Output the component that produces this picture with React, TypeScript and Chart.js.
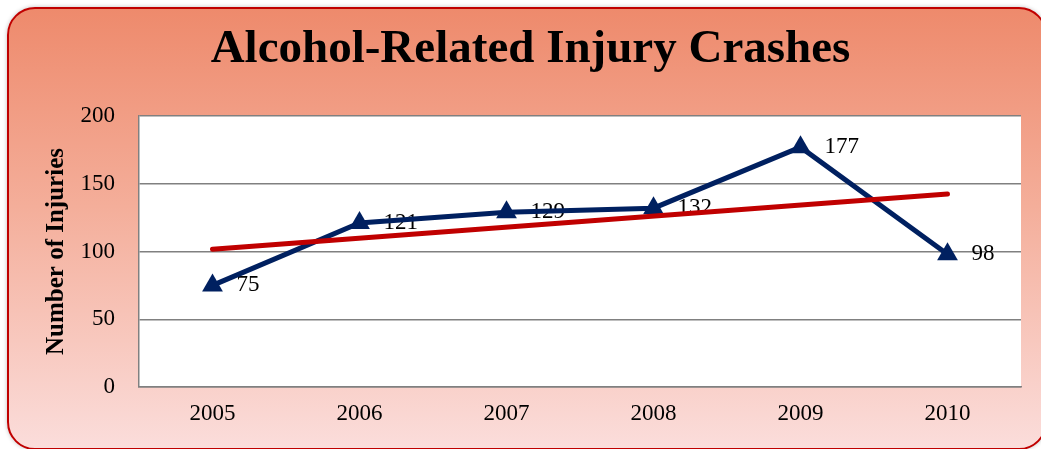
import React, { useEffect, useRef } from "react";
import { Chart, registerables } from "chart.js";

Chart.register(...registerables);

const years = ["2005", "2006", "2007", "2008", "2009", "2010"];
const injuries = [75, 121, 129, 132, 177, 98];
// Linear trendline endpoints
const trendValues = [101.6, null, null, null, null, 142.4];
const yTicks = [0, 50, 100, 150, 200];

const FONT = "'Liberation Serif', 'Times New Roman', serif";

const plotBg = {
  id: "plotBg",
  beforeDraw(chart: any) {
    const { ctx, chartArea } = chart;
    ctx.save();
    ctx.fillStyle = "#ffffff";
    ctx.fillRect(chartArea.left, chartArea.top, chartArea.right - chartArea.left, chartArea.bottom - chartArea.top);
    ctx.restore();
  },
};

const dataLabels = {
  id: "dataLabels",
  beforeDatasetsDraw(chart: any) {
    const { ctx } = chart;
    const idx = chart.data.datasets.findIndex((d: any) => d.label === "Injuries");
    const meta = chart.getDatasetMeta(idx);
    ctx.save();
    ctx.font = `23px ${FONT}`;
    ctx.fillStyle = "#000000";
    ctx.textAlign = "left";
    ctx.textBaseline = "middle";
    meta.data.forEach((pt: any, i: number) => {
      ctx.fillText(String(injuries[i]), pt.x + 24, pt.y);
    });
    ctx.restore();
  },
};

export default function App() {
  const ref = useRef<HTMLCanvasElement>(null);

  useEffect(() => {
    if (!ref.current) return;
    const chart = new Chart(ref.current, {
      type: "line",
      data: {
        labels: years,
        datasets: [
          {
            label: "Trend",
            data: trendValues,
            borderColor: "#C00000",
            borderWidth: 5,
            borderCapStyle: "round",
            pointRadius: 0,
            spanGaps: true,
            fill: false,
          },
          {
            label: "Injuries",
            data: injuries,
            borderColor: "#002060",
            backgroundColor: "#002060",
            borderWidth: 5,
            pointStyle: "triangle",
            pointRadius: 12,
            pointBorderWidth: 0,
            pointBackgroundColor: "#002060",
            pointBorderColor: "#002060",
            fill: false,
          },
        ],
      },
      options: {
        responsive: false,
        animation: false,
        devicePixelRatio: 1,
        layout: { padding: { left: 40, right: 20, top: 0, bottom: 0 } },
        plugins: {
          legend: { display: false },
          tooltip: { enabled: false },
          title: {
            display: true,
            text: "Alcohol-Related Injury Crashes",
            color: "#000000",
            font: { family: FONT, size: 47, weight: "bold", lineHeight: 1.2 },
            padding: { top: 22, bottom: 37.6 },
          },
        },
        scales: {
          x: {
            type: "category",
            offset: true,
            grid: { display: false, drawTicks: false },
            border: { display: true, color: "#808080", width: 1.5 },
            ticks: {
              color: "#000000",
              font: { family: FONT, size: 23 },
              padding: 13,
              maxRotation: 0,
            },
            afterFit(scale: any) {
              scale.height = 62;
            },
          },
          y: {
            min: 0,
            max: 200,
            afterBuildTicks(scale: any) {
              scale.ticks = yTicks.map((v) => ({ value: v }));
            },
            grid: { color: "#808080", lineWidth: 1.5, drawTicks: false },
            border: { display: true, color: "#808080", width: 1.5 },
            ticks: {
              color: "#000000",
              font: { family: FONT, size: 23 },
              padding: 24,
            },
            title: {
              display: true,
              text: "Number of Injuries",
              color: "#000000",
              font: { family: FONT, size: 25, weight: "bold", lineHeight: 1.2 },
              padding: { top: 2, bottom: 0 },
            },
            afterFit(scale: any) {
              scale.width = 99;
            },
          },
        },
      },
      plugins: [plotBg, dataLabels],
    } as any);
    return () => chart.destroy();
  }, []);

  return (
    <div
      style={{
        position: "fixed",
        left: 0,
        top: 0,
        width: 1041,
        height: 449,
        overflow: "hidden",
        background: "#ffffff",
      }}
    >
      <div
        style={{
          position: "absolute",
          left: 7,
          top: 7,
          width: 1040,
          height: 443,
          boxSizing: "border-box",
          border: "2.5px solid #C00000",
          borderRadius: 28,
          background: "linear-gradient(180deg, #EE8A6C 0%, #F4AE9A 45%, #FBDDDB 100%)",
          boxShadow: "0 0 4px rgba(0,0,0,0.25)",
        }}
      />
      <canvas
        ref={ref}
        width={1041}
        height={449}
        style={{ position: "absolute", left: 0, top: 0, width: 1041, height: 449 }}
      />
    </div>
  );
}
